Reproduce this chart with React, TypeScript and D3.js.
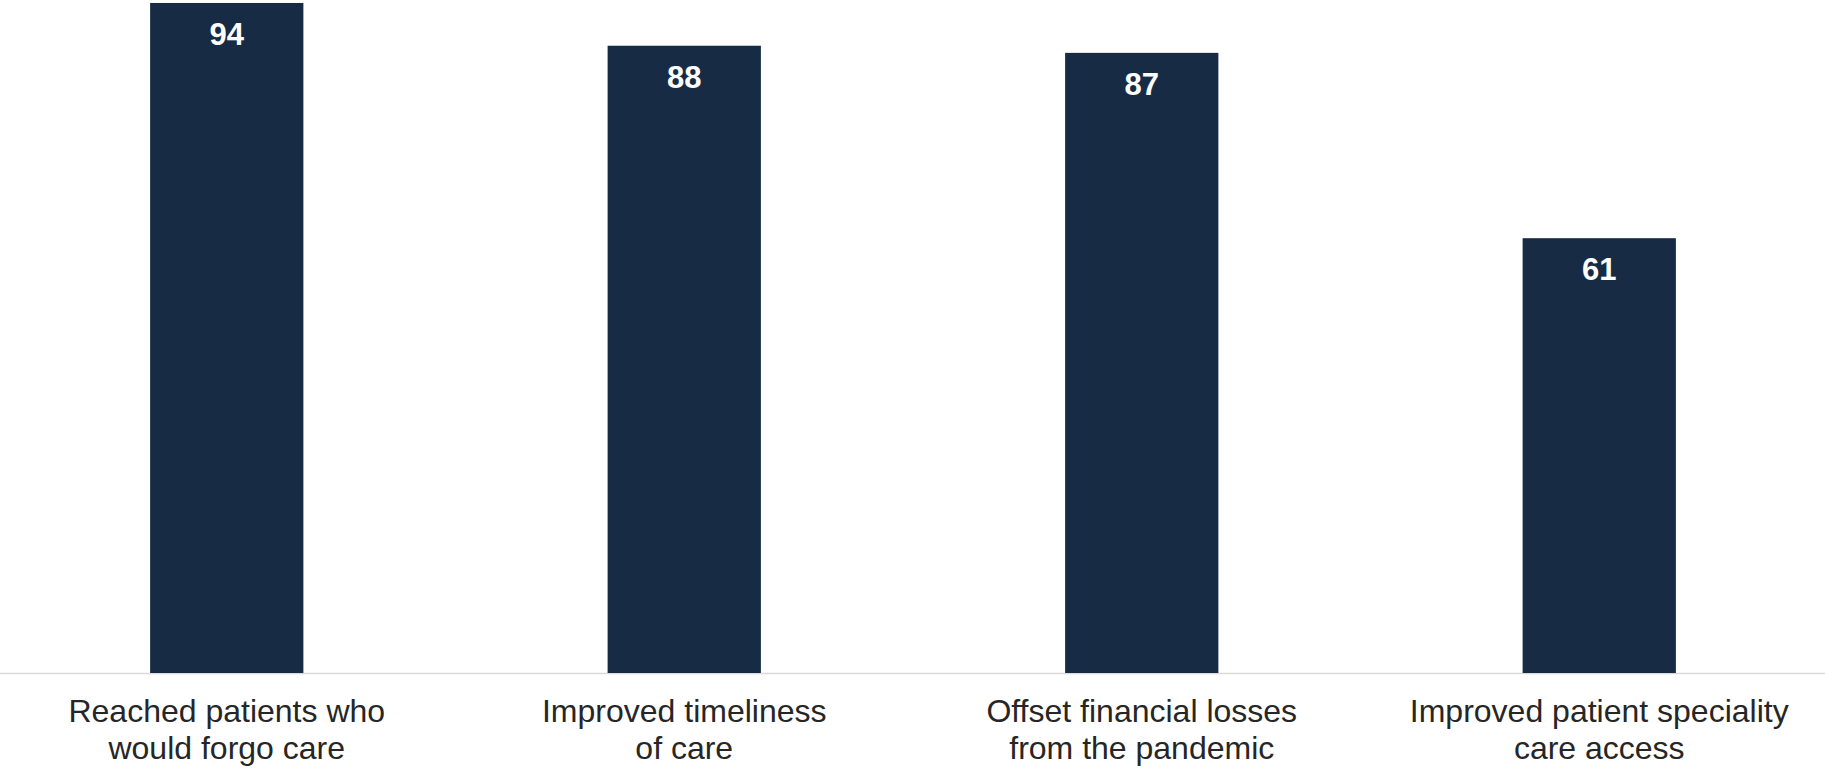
import React from "react";
import * as d3 from "d3";

const categories: string[][] = [
  ["Reached patients who", "would forgo care"],
  ["Improved timeliness", "of care"],
  ["Offset financial losses", "from the pandemic"],
  ["Improved patient speciality", "care access"],
];
const values: number[] = [94, 88, 87, 61];

const W = 1825;
const H = 771;
const baseY = 673;

export default function App() {
  const keys = categories.map((_, i) => String(i));
  const x = d3.scaleBand<string>().domain(keys).range([-2, 1828]).paddingInner(0.665).paddingOuter(0.3325);
  const y = d3.scaleLinear().domain([0, 100]).range([baseY, baseY - 712.8]);
  return (
    <svg width={W} height={H} style={{ position: "absolute", left: 0, top: 0, background: "#fff" }}>
      <line x1={0} x2={W} y1={baseY + 0.5} y2={baseY + 0.5} stroke="#d9d9d9" strokeWidth={1.5} />
      {values.map((v, i) => {
        const bx = x(String(i))!;
        const bw = x.bandwidth();
        return (
          <g key={i}>
            <rect x={bx} y={y(v)} width={bw} height={baseY - y(v)} fill="#172b45" />
            <text
              x={bx + bw / 2}
              y={y(v) + 42}
              textAnchor="middle"
              fill="#ffffff"
              fontFamily="Liberation Sans, Arial, sans-serif"
              fontWeight="bold"
              fontSize={31}
            >
              {v}
            </text>
            {categories[i].map((line, j) => (
              <text
                key={j}
                x={bx + bw / 2}
                y={722 + j * 37}
                textAnchor="middle"
                fill="#262626"
                fontFamily="Liberation Sans, Arial, sans-serif"
                fontSize={32}
              >
                {line}
              </text>
            ))}
          </g>
        );
      })}
    </svg>
  );
}
